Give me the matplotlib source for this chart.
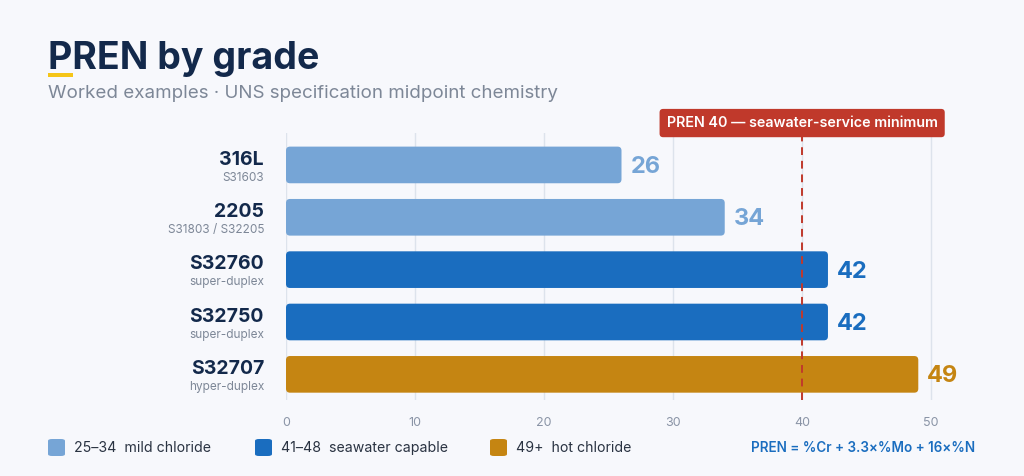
import matplotlib.pyplot as plt
from matplotlib.patches import FancyBboxPatch
import matplotlib.patches as mpatches

# data
grades = ["316L", "2205", "S32760", "S32750", "S32707"]
uns = ["S31603", "S31803 / S32205", "super-duplex", "super-duplex", "hyper-duplex"]
pren = [26, 34, 42, 42, 49]
tier = ["mild", "mild", "sea", "sea", "hot"]
threshold = 40
xticks = [0, 10, 20, 30, 40, 50]

tier_colors = {"mild": "#76A5D6", "sea": "#1A6DBF", "hot": "#C58512"}
legend_items = [("mild", "25–34  mild chloride"), ("sea", "41–48  seawater capable"), ("hot", "49+  hot chloride")]

plt.rcParams['font.family'] = ['Inter', 'DejaVu Sans']
bg = "#F7F8FC"
navy = "#13294B"
gray = "#7D8797"

fig = plt.figure(figsize=(10.24, 4.76), dpi=100, facecolor=bg)
ax = fig.add_axes([286/1024, 76/476, 671/1024, 267/476])
ax.set_facecolor(bg)

ax.set_xlim(0, 52)
ax.set_ylim(4.49, -0.61)

# grid
for t in xticks:
    ax.axvline(t, color="#DDE3EC", lw=1, zorder=0)

# bars with rounded corners
h = 0.7
px_x = 671 / 52
px_y = 267 / 5.1
for i, (v, t) in enumerate(zip(pren, tier)):
    c = tier_colors[t]
    r = 4 / px_x
    p = FancyBboxPatch((0, i - h / 2), v, h,
                       boxstyle=f"round,pad=0,rounding_size={r}",
                       mutation_aspect=px_x / px_y,
                       fc=c, ec="none", zorder=2)
    ax.add_patch(p)
    ax.text(v + 0.7, i + 0.04, str(v), color=c, fontsize=17, fontweight="bold",
            va="center", ha="left", zorder=3)

# threshold line
ax.axvline(threshold, color="#C0392B", lw=1.4, ls=(0, (4, 3)), zorder=4)
ax.text(threshold, -0.8, "PREN 40 — seawater-service minimum", color="white",
        fontsize=10.3, fontweight="semibold", ha="center", va="center", zorder=5,
        clip_on=False,
        bbox=dict(boxstyle="round,pad=0.5,rounding_size=0.25", fc="#C0392B", ec="none"))

# y labels
ax.set_yticks([])
for i, (g, u) in enumerate(zip(grades, uns)):
    ax.text(-22 / px_x, i - 0.1, g, color=navy, fontsize=14, fontweight="bold",
            ha="right", va="center", clip_on=False)
    ax.text(-22 / px_x, i + 0.24, u, color=gray, fontsize=8.5,
            ha="right", va="center", clip_on=False)

ax.set_xticks(xticks)
ax.tick_params(axis="x", length=0, pad=12, labelsize=9, labelcolor="#8A94A6")
for s in ax.spines.values():
    s.set_visible(False)

# title
fig.text(48/1024, 1 - 59/476, "PREN by grade", fontsize=27, fontweight="bold",
         color=navy, ha="left", va="center")
fig.patches.append(mpatches.Rectangle((48/1024, 1 - 77/476), 25/1024, 4/476,
                                      transform=fig.transFigure, fc="#F5C518", ec="none"))
fig.text(48/1024, 1 - 94/476, "Worked examples · UNS specification midpoint chemistry",
         fontsize=13.5, color=gray, ha="left", va="center")

# legend
lx = [48, 255, 490]
for x0, (k, lab) in zip(lx, legend_items):
    fig.patches.append(FancyBboxPatch((x0/1024, 1 - 456/476), 17/1024, 17/476,
                                      boxstyle="round,pad=0,rounding_size=0.004",
                                      transform=fig.transFigure, fc=tier_colors[k], ec="none"))
    fig.text((x0 + 26)/1024, 1 - 448/476, lab, fontsize=10.2, color="#2A3342",
             ha="left", va="center")
fig.text(975/1024, 1 - 448/476, "PREN = %Cr + 3.3×%Mo + 16×%N", fontsize=9.7,
         color="#1A6DBF", fontweight="semibold", ha="right", va="center")

fig.savefig("out.png", dpi=100, facecolor=bg)
